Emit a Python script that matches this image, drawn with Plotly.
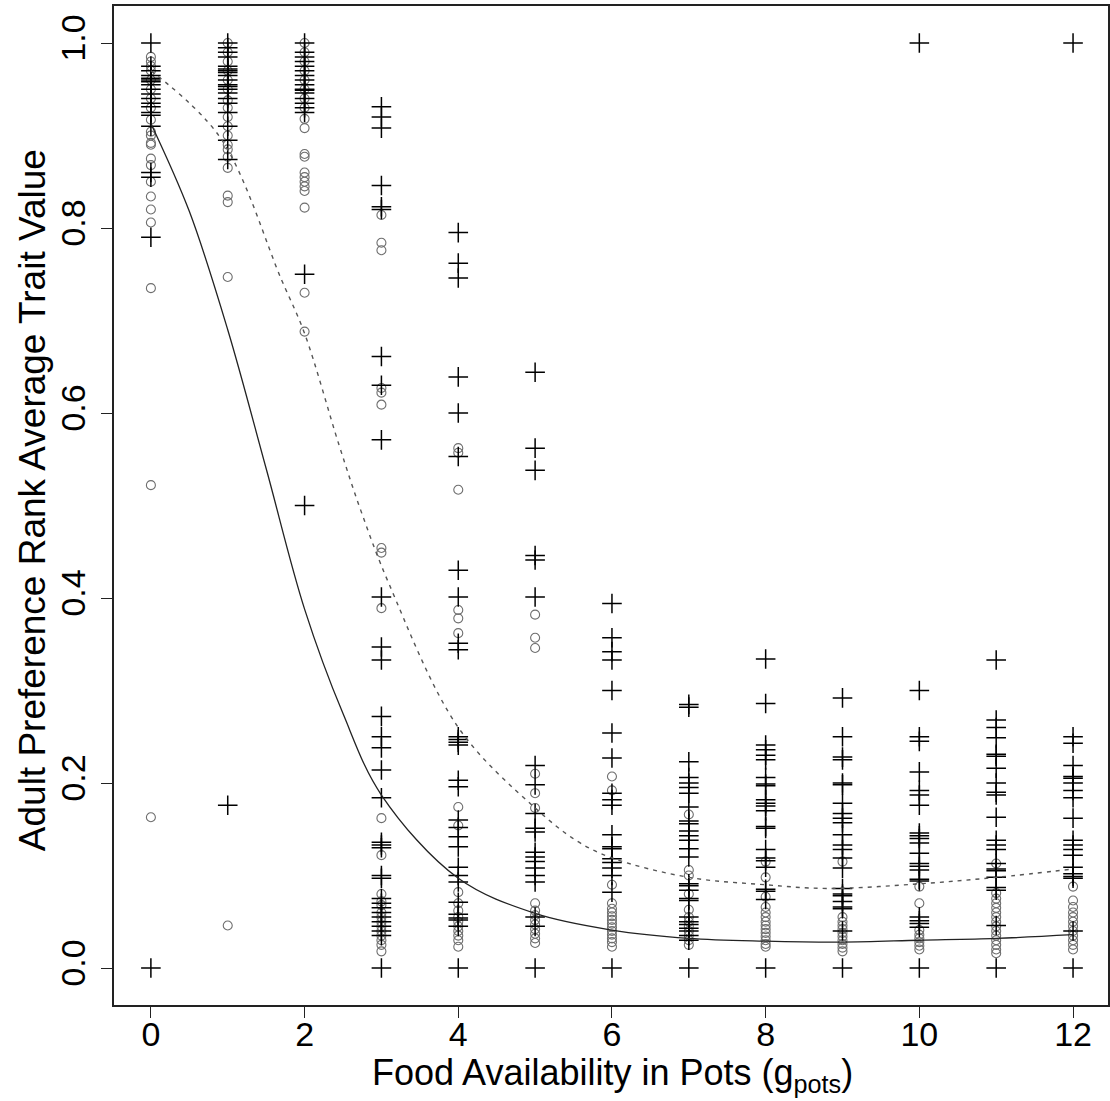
import plotly.graph_objects as go

# Food availability levels (g in pots)
food_levels = list(range(13))

# Rank average trait values, "+" series, one list per food level
plus_0 = [1.0, 0.975, 0.97, 0.965, 0.962, 0.96, 0.958, 0.955, 0.95, 0.945, 0.94, 0.935,
          0.931, 0.925, 0.922, 0.91, 0.86, 0.855, 0.79, 0.0]
plus_1 = [1.0, 0.995, 0.99, 0.985, 0.975, 0.972, 0.97, 0.968, 0.965, 0.96, 0.955, 0.953,
          0.95, 0.946, 0.94, 0.935, 0.925, 0.91, 0.895, 0.874, 0.176]
plus_2 = [1.0, 0.99, 0.985, 0.98, 0.975, 0.97, 0.965, 0.96, 0.955, 0.95, 0.949, 0.946,
          0.94, 0.935, 0.93, 0.925, 0.75, 0.5]
plus_3 = [0.931, 0.92, 0.908, 0.846, 0.823, 0.82, 0.661, 0.63, 0.571, 0.401, 0.347,
          0.333, 0.272, 0.25, 0.238, 0.214, 0.184, 0.136, 0.133, 0.13, 0.1, 0.097,
          0.075, 0.07, 0.065, 0.06, 0.055, 0.05, 0.045, 0.04, 0.035, 0.0]
plus_4 = [0.795, 0.762, 0.746, 0.639, 0.6, 0.553, 0.43, 0.401, 0.351, 0.344, 0.25,
          0.247, 0.244, 0.241, 0.203, 0.196, 0.16, 0.152, 0.142, 0.131, 0.109, 0.1,
          0.093, 0.071, 0.058, 0.054, 0.052, 0.045, 0.0]
plus_5 = [0.644, 0.562, 0.538, 0.446, 0.441, 0.401, 0.219, 0.198, 0.167, 0.151, 0.147,
          0.125, 0.12, 0.115, 0.108, 0.1, 0.093, 0.055, 0.045, 0.0]
plus_6 = [0.394, 0.357, 0.342, 0.333, 0.3, 0.254, 0.227, 0.189, 0.182, 0.176, 0.144,
          0.131, 0.129, 0.118, 0.114, 0.108, 0.1, 0.082, 0.0]
plus_7 = [0.285, 0.282, 0.223, 0.206, 0.2, 0.195, 0.189, 0.174, 0.159, 0.156, 0.148,
          0.143, 0.138, 0.129, 0.12, 0.091, 0.089, 0.084, 0.075, 0.073, 0.055, 0.05,
          0.047, 0.043, 0.04, 0.035, 0.03, 0.0]
plus_8 = [0.334, 0.286, 0.241, 0.236, 0.23, 0.225, 0.206, 0.199, 0.197, 0.182, 0.178,
          0.175, 0.17, 0.153, 0.151, 0.128, 0.119, 0.116, 0.109, 0.085, 0.083, 0.074, 0.0]
plus_9 = [0.292, 0.25, 0.228, 0.225, 0.2, 0.198, 0.178, 0.167, 0.162, 0.157, 0.144,
          0.133, 0.128, 0.119, 0.108, 0.086, 0.08, 0.078, 0.072, 0.066, 0.064, 0.04, 0.0]
plus_10 = [1.0, 0.3, 0.25, 0.245, 0.212, 0.192, 0.187, 0.176, 0.146, 0.143, 0.14, 0.135,
           0.124, 0.113, 0.11, 0.106, 0.096, 0.094, 0.055, 0.051, 0.048, 0.044, 0.0]
plus_11 = [0.333, 0.268, 0.26, 0.249, 0.231, 0.229, 0.216, 0.2, 0.19, 0.187, 0.163,
           0.138, 0.133, 0.128, 0.113, 0.107, 0.105, 0.098, 0.087, 0.084, 0.046, 0.0]
plus_12 = [1.0, 0.25, 0.243, 0.219, 0.207, 0.205, 0.2, 0.192, 0.184, 0.162, 0.138, 0.133,
           0.128, 0.122, 0.109, 0.102, 0.099, 0.097, 0.04, 0.0]

# Rank average trait values, open-circle series
circ_0 = [0.985, 0.98, 0.975, 0.97, 0.96, 0.95, 0.94, 0.93, 0.917, 0.904, 0.9, 0.892,
          0.89, 0.875, 0.868, 0.85, 0.834, 0.82, 0.806, 0.735, 0.522, 0.163]
circ_1 = [1.0, 0.99, 0.98, 0.97, 0.96, 0.95, 0.938, 0.93, 0.92, 0.91, 0.9, 0.89, 0.885,
          0.877, 0.865, 0.835, 0.828, 0.747, 0.046]
circ_2 = [1.0, 0.99, 0.98, 0.97, 0.96, 0.95, 0.94, 0.93, 0.918, 0.908, 0.88, 0.877,
          0.86, 0.855, 0.85, 0.845, 0.84, 0.822, 0.73, 0.688]
circ_3 = [0.814, 0.784, 0.776, 0.627, 0.622, 0.609, 0.454, 0.449, 0.389, 0.162, 0.122,
          0.08, 0.072, 0.068, 0.06, 0.055, 0.05, 0.045, 0.04, 0.035, 0.03, 0.025, 0.018]
circ_4 = [0.562, 0.557, 0.517, 0.387, 0.378, 0.362, 0.174, 0.154, 0.082, 0.07, 0.062,
          0.055, 0.05, 0.045, 0.04, 0.035, 0.03, 0.023]
circ_5 = [0.382, 0.357, 0.346, 0.21, 0.189, 0.173, 0.07, 0.062, 0.057, 0.052, 0.047,
          0.042, 0.037, 0.032, 0.027]
circ_6 = [0.207, 0.192, 0.09, 0.07, 0.064, 0.06, 0.056, 0.052, 0.048, 0.044, 0.04,
          0.036, 0.032, 0.028, 0.023]
circ_7 = [0.166, 0.106, 0.1, 0.08, 0.063, 0.055, 0.05, 0.045, 0.04, 0.035, 0.03, 0.025]
circ_8 = [0.115, 0.098, 0.077, 0.066, 0.06, 0.055, 0.05, 0.046, 0.042, 0.038, 0.034,
          0.03, 0.026, 0.023]
circ_9 = [0.115, 0.055, 0.05, 0.046, 0.042, 0.038, 0.034, 0.03, 0.026, 0.022, 0.018]
circ_10 = [0.088, 0.07, 0.041, 0.036, 0.032, 0.028, 0.024, 0.02]
circ_11 = [0.113, 0.081, 0.075, 0.07, 0.065, 0.06, 0.055, 0.05, 0.045, 0.04, 0.035,
           0.03, 0.025, 0.02, 0.016]
circ_12 = [0.088, 0.073, 0.066, 0.06, 0.055, 0.05, 0.045, 0.04, 0.035, 0.03, 0.025, 0.02]

plus_groups = [plus_0, plus_1, plus_2, plus_3, plus_4, plus_5, plus_6,
               plus_7, plus_8, plus_9, plus_10, plus_11, plus_12]
circ_groups = [circ_0, circ_1, circ_2, circ_3, circ_4, circ_5, circ_6,
               circ_7, circ_8, circ_9, circ_10, circ_11, circ_12]

# Fitted curves
solid_x = [0, 0.5, 1.0, 1.5, 2.0, 2.5, 3.0, 4, 5, 6, 7, 8, 9, 10, 11, 12]
solid_y = [0.913, 0.818, 0.69, 0.54, 0.388, 0.275, 0.187, 0.097, 0.059, 0.041,
           0.032, 0.029, 0.028, 0.030, 0.032, 0.036]
dashed_x = [0, 0.9, 1.7, 2.0, 2.45, 2.73, 3.1, 4, 5, 5.55, 6, 7, 8, 8.8, 10, 11, 12]
dashed_y = [0.97, 0.898, 0.744, 0.686, 0.565, 0.495, 0.415, 0.26, 0.173, 0.137, 0.119,
            0.098, 0.09, 0.086, 0.091, 0.098, 0.107]

x_ticks = [0, 2, 4, 6, 8, 10, 12]
y_ticks = [0.0, 0.2, 0.4, 0.6, 0.8, 1.0]
y_tick_text = ["0.0", "0.2", "0.4", "0.6", "0.8", "1.0"]

x_title = "Food Availability in Pots (g<sub>pots</sub>)"
y_title = "Adult Preference Rank Average Trait Value"


def flatten(groups):
    xs, ys = [], []
    for lvl, vals in zip(food_levels, groups):
        xs.extend([lvl] * len(vals))
        ys.extend(vals)
    return xs, ys


cx, cy = flatten(circ_groups)
px_, py_ = flatten(plus_groups)

fig = go.Figure()
fig.add_trace(go.Scatter(
    x=cx, y=cy, mode="markers",
    marker=dict(symbol="circle-open", size=9, color="#6e6e6e", line=dict(width=1.1)),
    showlegend=False, hoverinfo="skip"))
fig.add_trace(go.Scatter(
    x=px_, y=py_, mode="markers",
    marker=dict(symbol="cross-thin", size=14, color="black",
                line=dict(width=1.5, color="black")),
    showlegend=False, hoverinfo="skip"))
fig.add_trace(go.Scatter(
    x=dashed_x, y=dashed_y, mode="lines",
    line=dict(color="#555555", width=1.4, dash="4px,5px", shape="spline", smoothing=1.0),
    showlegend=False, hoverinfo="skip"))
fig.add_trace(go.Scatter(
    x=solid_x, y=solid_y, mode="lines",
    line=dict(color="#222222", width=1.3, shape="spline", smoothing=1.0),
    showlegend=False, hoverinfo="skip"))

font_family = "Liberation Sans, Arial, sans-serif"

fig.update_layout(
    width=1110, height=1101,
    margin=dict(l=114, r=0, t=6, b=96),
    paper_bgcolor="white", plot_bgcolor="white",
    font=dict(family=font_family, color="black", size=34),
    xaxis=dict(
        range=[-0.48, 12.455], tickmode="array", tickvals=x_ticks,
        ticks="outside", ticklen=11, tickwidth=1.2, tickcolor="#222",
        showline=True, linecolor="#222", linewidth=1.5, mirror=True,
        showgrid=False, zeroline=False,
        tickfont=dict(size=34), ticklabelstandoff=-13,
    ),
    yaxis=dict(
        range=[-0.04, 1.04], tickmode="array", tickvals=y_ticks, ticktext=y_tick_text,
        tickangle=-90,
        ticks="outside", ticklen=11, tickwidth=1.2, tickcolor="#222",
        showline=True, linecolor="#222", linewidth=1.5, mirror=True,
        showgrid=False, zeroline=False,
        tickfont=dict(size=34), ticklabelstandoff=3,
    ),
    annotations=[
        dict(text=x_title, xref="paper", yref="paper", x=0.502, y=-0.07,
             xanchor="center", yanchor="middle", showarrow=False,
             font=dict(size=36)),
        dict(text=y_title, xref="paper", yref="paper", x=-0.0823, y=0.5055,
             xanchor="center", yanchor="middle", textangle=-90, showarrow=False,
             font=dict(size=37)),
    ],
)

fig.write_html("out.html")
